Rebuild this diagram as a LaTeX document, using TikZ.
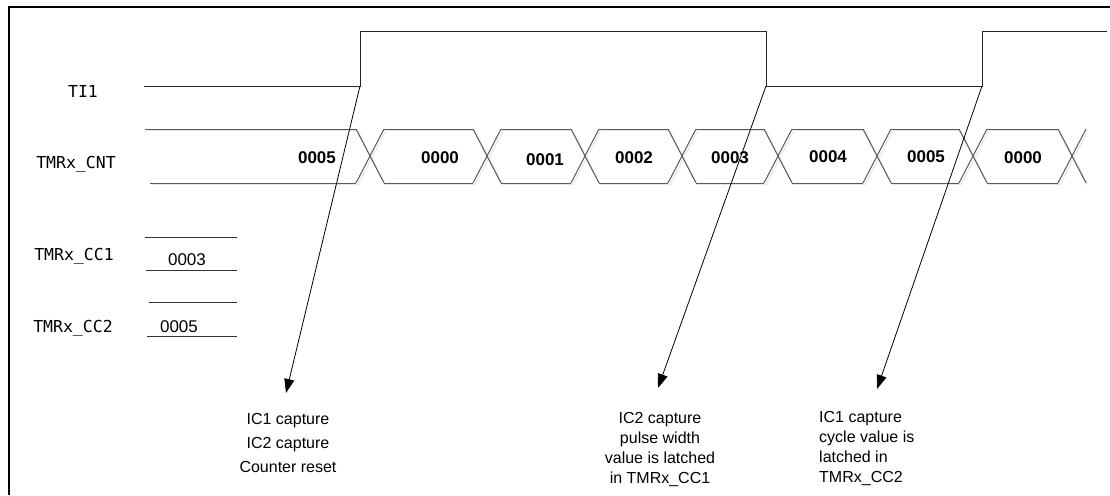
\documentclass[tikz,border=0pt]{standalone}
\usepackage{fontspec}
\setmainfont{Liberation Sans}
\newfontfamily\monof{DejaVu Sans Mono}
\usetikzlibrary{arrows.meta}
\begin{document}
\begin{tikzpicture}[x=1pt,y=-1pt,
  sig/.style={line width=1pt, black!85},
  bus/.style={line width=1pt, black!65},
  busshadow/.style={line width=1pt, black!10},
  reg/.style={line width=0.9pt, black!80},
  frame/.style={line width=2pt, black},
  lbl/.style={font=\monof\fontsize{16.5}{16.5}\selectfont, inner sep=0, anchor=base},
  val/.style={font=\bfseries\fontsize{17}{17}\selectfont, inner sep=0, anchor=base},
  regval/.style={font=\fontsize{17}{17}\selectfont, inner sep=0, anchor=base},
  note/.style={font=\fontsize{16}{20}\selectfont, inner sep=0, anchor=north},
  ptr/.style={line width=0.8pt, black, -{Triangle[length=14pt,width=10pt]}}]
\useasboundingbox (0,0) rectangle (1110,495);
% frame
\draw[frame] (9,495) -- (9,7) -- (1110,7);

% left labels
\node[lbl] (lti)  at (83,97)  {TI1};
\node[lbl] (lcnt) at (76,168) {TMRx\_CNT};
\node[lbl] (lcc1) at (74,260) {TMRx\_CC1};
\node[lbl] (lcc2) at (73,332) {TMRx\_CC2};

% TI1 waveform
\coordinate (r1) at (360,86);
\coordinate (f1) at (766,86);
\coordinate (r2) at (982,86);
\draw[sig] (144,86) -- (r1) -- (360,32) -- (766,32) -- (f1) -- (r2) -- (982,32) -- (1107,32);

% counter bus
\def\h{14}
\foreach \sh/\st in {1.8/busshadow, 0/bus}{
  \begin{scope}[shift={(\sh,\sh)}]
    \draw[\st] (145,129) -- (370-\h,129);
    \draw[\st] (150,183) -- (370-\h,183);
    \foreach \a/\b in {370/487, 487/585, 585/682, 682/778, 778/877, 877/973, 973/1072}{
      \draw[\st] (\a+\h,129) -- (\b-\h,129);
      \draw[\st] (\a+\h,183) -- (\b-\h,183);
    }
    \foreach \c in {370,487,585,682,778,877,973,1072}{
      \draw[\st] (\c-\h,129) -- (\c+\h,183);
      \draw[\st] (\c-\h,183) -- (\c+\h,129);
    }
  \end{scope}
}
\node[val] (v0) at (317,163) {0005};
\node[val] (v1) at (440,163) {0000};
\node[val] (v2) at (545,165) {0001};
\node[val] (v3) at (634,163) {0002};
\node[val] (v4) at (730,163) {0003};
\node[val] (v5) at (828,162) {0004};
\node[val] (v6) at (926,162) {0005};
\node[val] (v7) at (1023,163) {0000};

% registers
\draw[reg] (145,237) -- (237,237);
\draw[reg] (146,270) -- (237,270);
\draw[reg] (149,302) -- (237,302);
\draw[reg] (147,336) -- (237,336);
\node[regval] (c1v) at (187,265) {0003};
\node[regval] (c2v) at (179,332) {0005};

% notes
\node[note, align=center, font=\fontsize{16}{24}\selectfont] (n1) at (288,413)
  {IC1 capture\\IC2 capture\\Counter reset};
\node[note, align=center] (n2) at (660,412)
  {IC2 capture\\pulse width\\value is latched\\in TMRx\_CC1};
\node[note, align=left, anchor=north west] (n3) at (819,411)
  {IC1 capture\\cycle value is\\latched in\\TMRx\_CC2};

% pointers
\coordinate (a1) at (286,393);
\coordinate (a2) at (658,388);
\coordinate (a3) at (877,389);
\draw[ptr] (r1) -- (a1);
\draw[ptr] (f1) -- (a2);
\draw[ptr] (r2) -- (a3);
\end{tikzpicture}
\end{document}
